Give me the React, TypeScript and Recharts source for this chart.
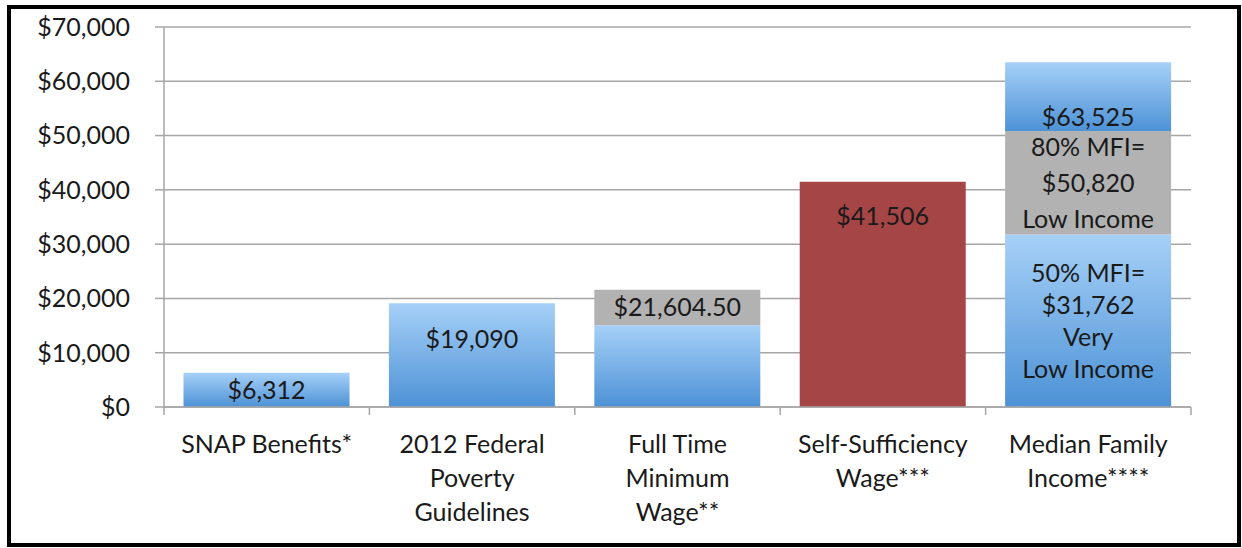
import { BarChart, Bar, XAxis, YAxis, CartesianGrid, LabelList } from 'recharts';

const categories = [
  'SNAP Benefits*',
  '2012 Federal Poverty Guidelines',
  'Full Time Minimum Wage**',
  'Self-Sufficiency Wage***',
  'Median Family Income****',
];
const categoryLines = [
  ['SNAP Benefits*'],
  ['2012 Federal', 'Poverty', 'Guidelines'],
  ['Full Time', 'Minimum', 'Wage**'],
  ['Self-Sufficiency', 'Wage***'],
  ['Median Family', 'Income****'],
];

// stacked segments, bottom to top
const blueBase = [6312, 19090, 15080, 0, 31762];
const grayMid = [0, 0, 6524.5, 0, 19058];
const redSelf = [0, 0, 0, 41506, 0];
const blueTop = [0, 0, 0, 0, 12705];

const blueBaseText = ['$6,312', '$19,090', '', '', '50% MFI=\n$31,762\nVery\nLow Income'];
const grayMidText = ['', '', '$21,604.50', '', '80% MFI=\n$50,820\nLow Income'];
const redSelfText = ['', '', '', '$41,506', ''];
const blueTopText = ['', '', '', '', '$63,525'];

const yTicks = [0, 10000, 20000, 30000, 40000, 50000, 60000, 70000];

const data = categories.map((name, i) => ({
  name,
  blueBase: blueBase[i],
  grayMid: grayMid[i],
  redSelf: redSelf[i],
  blueTop: blueTop[i],
}));

const FONT = 'Lato, "Open Sans", sans-serif';
const TEXT = '#1a1a1a';
const GRID = '#a6a6a6';
const W = 1242;
const H = 548;
const MARGIN = { top: 27, right: 51, bottom: 11, left: 0 };
const Y_AXIS_W = 164;
const PLOT_LEFT = MARGIN.left + Y_AXIS_W;
const BAND = (W - MARGIN.left - MARGIN.right - Y_AXIS_W) / categories.length;

type Place = { at: 'center' | 'top' | 'bottom'; off?: number; lh?: number };

// bar labels; the category is found from the segment's position
const segLabel = (texts: string[], places: Record<number, Place>) => (props: any) => {
  const vb = props.viewBox ?? props;
  const { x, y, width, height } = vb;
  if (x == null || width == null) return null;
  const index = Math.floor((x + width / 2 - PLOT_LEFT) / BAND);
  const t = texts[index];
  if (!t) return null;
  const top = Math.min(y, y + height);
  const h = Math.abs(height);
  const lines = t.split('\n');
  const p = places[index] ?? { at: 'center' };
  const lh = p.lh ?? 33;
  let first: number;
  if (p.at === 'top') first = top + (p.off ?? 0);
  else if (p.at === 'bottom') first = top + h - (p.off ?? 0) - (lines.length - 1) * lh;
  else first = top + h / 2 - ((lines.length - 1) * lh) / 2;
  const cx = x + width / 2;
  return (
    <text textAnchor="middle" fontFamily={FONT} fontSize={25} fill={TEXT}>
      {lines.map((l, i) => (
        <tspan key={i} x={cx} y={first + i * lh} dy="0.35em">
          {l}
        </tspan>
      ))}
    </text>
  );
};

const CategoryTick = (props: any) => {
  const { x, y, index } = props;
  const lines = categoryLines[index] ?? [];
  const left = x - BAND / 2;
  const right = x + BAND / 2;
  return (
    <g>
      <line x1={left} x2={left} y1={y - 8} y2={y} stroke={GRID} strokeWidth={1.5} />
      {index === categories.length - 1 && (
        <line x1={right} x2={right} y1={y - 8} y2={y} stroke={GRID} strokeWidth={1.5} />
      )}
      <text textAnchor="middle" fontFamily={FONT} fontSize={25} fill={TEXT}>
        {lines.map((l, i) => (
          <tspan key={i} x={x} y={y + 29 + i * 34} dy="0.35em">
            {l}
          </tspan>
        ))}
      </text>
    </g>
  );
};

export default function App() {
  return (
    <div style={{ position: 'fixed', left: 0, top: 0, width: W, height: H, background: '#fff' }}>
      <BarChart width={W} height={H} data={data} margin={MARGIN} barCategoryGap="9.5%">
        <defs>
          <linearGradient id="blueGrad" x1="0" y1="0" x2="0" y2="1">
            <stop offset="0%" stopColor="#a6d0f7" />
            <stop offset="100%" stopColor="#4d92d6" />
          </linearGradient>
        </defs>
        <CartesianGrid vertical={false} stroke={GRID} strokeWidth={1.5} />
        <XAxis
          dataKey="name"
          height={130}
          axisLine={{ stroke: GRID, strokeWidth: 1.5 }}
          tickLine={false}
          tickSize={8}
          tickMargin={0}
          interval={0}
          tick={CategoryTick}
        />
        <YAxis
          width={Y_AXIS_W}
          domain={[0, 70000]}
          ticks={yTicks}
          tickFormatter={(v: number) => `$${v.toLocaleString('en-US')}`}
          axisLine={{ stroke: GRID, strokeWidth: 1.5 }}
          tickLine={{ stroke: GRID, strokeWidth: 1.5 }}
          tickSize={9}
          tickMargin={25}
          tick={{ fill: TEXT, fontSize: 25, fontFamily: FONT }}
        />
        <Bar dataKey="blueBase" stackId="a" fill="url(#blueGrad)" isAnimationActive={false}>
          <LabelList
            dataKey="blueBase"
            content={segLabel(blueBaseText, { 1: { at: 'top', off: 36 }, 4: { at: 'center', lh: 32 } })}
          />
        </Bar>
        <Bar dataKey="grayMid" stackId="a" fill="#b2b2b2" isAnimationActive={false}>
          <LabelList dataKey="grayMid" content={segLabel(grayMidText, { 4: { at: 'center', lh: 36 } })} />
        </Bar>
        <Bar dataKey="redSelf" stackId="a" fill="#a54546" isAnimationActive={false}>
          <LabelList dataKey="redSelf" content={segLabel(redSelfText, { 3: { at: 'top', off: 35 } })} />
        </Bar>
        <Bar dataKey="blueTop" stackId="a" fill="url(#blueGrad)" isAnimationActive={false}>
          <LabelList dataKey="blueTop" content={segLabel(blueTopText, { 4: { at: 'bottom', off: 14 } })} />
        </Bar>
      </BarChart>
      <div
        style={{
          position: 'absolute',
          left: 7,
          top: 5,
          width: 1234,
          height: 542,
          border: '4px solid #000',
          boxSizing: 'border-box',
          pointerEvents: 'none',
        }}
      />
    </div>
  );
}
